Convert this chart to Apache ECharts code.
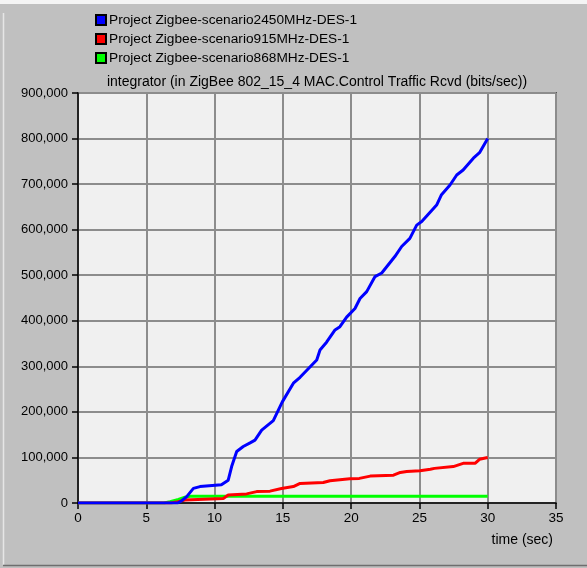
<!DOCTYPE html>
<html>
<head>
<meta charset="utf-8">
<script src="https://cdn.jsdelivr.net/npm/echarts@6/dist/echarts.min.js"></script>
<style>
  html, body { margin: 0; padding: 0; background: #c0c0c0; }
  #chart { width: 587px; height: 568px; }
</style>
</head>
<body>
<div id="chart"></div>
<script>
// Time axis ticks (sec) and value axis ticks (bits/sec)
const xTicks = [0, 5, 10, 15, 20, 25, 30, 35];
const yTicks = [0, 100000, 200000, 300000, 400000, 500000, 600000, 700000, 800000, 900000];

const seriesNames = [
  'Project Zigbee-scenario2450MHz-DES-1',
  'Project Zigbee-scenario915MHz-DES-1',
  'Project Zigbee-scenario868MHz-DES-1'
];

// 2450 MHz scenario
const t2450 = [0, 7.3, 7.6, 7.96, 8.45, 8.93, 10.5, 11.0, 11.25, 11.62, 12.1, 12.6, 12.96, 13.45, 14.3, 14.96, 15.77, 16.26, 17.48, 17.72, 18.2, 18.82, 19.18, 19.67, 20.28, 20.65, 21.14, 21.75, 22.24, 23.2, 23.7, 24.3, 24.8, 25.17, 26.26, 26.6, 27.24, 27.73, 28.2, 28.95, 29.4, 30];
const v2450 = [0, 0, 5000, 14000, 32000, 36000, 40000, 50000, 80000, 113000, 124000, 132000, 138000, 160000, 181000, 222000, 263000, 276000, 314000, 336000, 353000, 380000, 387000, 408000, 427000, 449000, 464000, 497000, 505000, 541000, 563000, 581000, 610000, 618000, 654000, 676000, 698000, 720000, 731000, 757000, 769000, 800000];

// 915 MHz scenario
const t915 = [0, 6.8, 7.2, 7.83, 10.64, 11.0, 12.35, 13.08, 14.06, 14.9, 15.77, 16.26, 17.96, 18.45, 19.9, 20.6, 21.4, 23.1, 23.6, 24.07, 25.04, 25.8, 26.1, 27.48, 28.2, 29.07, 29.4, 30];
const v915 = [0, 0, 2000, 6500, 10000, 17500, 20000, 25000, 26000, 32000, 36000, 43000, 45000, 49000, 53000, 54000, 59000, 61000, 67000, 69000, 71000, 74000, 76000, 80000, 87000, 87000, 96000, 100000];

// 868 MHz scenario
const t868 = [0, 6.3, 6.74, 7.35, 7.83, 8.2, 30];
const v868 = [0, 0, 3000, 8000, 12500, 15000, 15000];

const colors = ['#0000ff', '#ff0000', '#00ff00'];
const FONT = '"Liberation Sans", Arial, sans-serif';

function pairs(t, v) { return t.map((x, i) => [x, v[i]]); }

const chart = echarts.init(document.getElementById('chart'), null, { renderer: 'canvas' });

const G = { left: 78, top: 93, right: 31, bottom: 65 };

function lineSeries(idx, t, v, z) {
  return {
    name: seriesNames[idx],
    type: 'line',
    data: pairs(t, v),
    showSymbol: false,
    symbol: 'none',
    z: z,
    animation: false,
    lineStyle: { color: colors[idx], width: 3 },
    itemStyle: { color: colors[idx], borderColor: '#000', borderWidth: 1 }
  };
}

chart.setOption({
  animation: false,
  backgroundColor: '#c0c0c0',
  textStyle: { fontFamily: FONT },
  legend: {
    data: seriesNames,
    orient: 'vertical',
    left: 90,
    top: 8,
    itemWidth: 10,
    itemHeight: 10,
    itemGap: 5,
    icon: 'rect',
    selectedMode: false,
    textStyle: { fontFamily: FONT, fontSize: 13.7, color: '#000', padding: [0, 0, 0, -2] }
  },
  grid: {
    left: G.left, top: G.top, right: G.right, bottom: G.bottom,
    show: true,
    backgroundColor: '#f0f0f0',
    borderColor: '#000',
    borderWidth: 1.5
  },
  xAxis: {
    type: 'value',
    min: xTicks[0],
    max: xTicks[xTicks.length - 1],
    interval: 5,
    axisLine: { show: true, lineStyle: { color: '#000', width: 1.5 } },
    axisTick: { show: true, length: 6, lineStyle: { color: '#000', width: 1.5 } },
    axisLabel: { color: '#000', fontSize: 13.5, fontFamily: FONT, margin: 8 },
    splitLine: { show: true, lineStyle: { color: '#8c8c8c', width: 2 } }
  },
  yAxis: {
    type: 'value',
    min: yTicks[0],
    max: yTicks[yTicks.length - 1],
    interval: 100000,
    axisLine: { show: true, lineStyle: { color: '#000', width: 1.5 } },
    axisTick: { show: true, length: 6, lineStyle: { color: '#000', width: 1.5 } },
    axisLabel: {
      color: '#000', fontSize: 13, fontFamily: FONT, margin: 10,
      formatter: v => v.toLocaleString('en-US')
    },
    splitLine: { show: true, lineStyle: { color: '#8c8c8c', width: 2 } }
  },
  graphic: [
    { type: 'rect', shape: { x: 0, y: 0, width: 587, height: 4 }, style: { fill: '#f4f4f4' }, silent: true },
    { type: 'line', shape: { x1: 3.5, y1: 13, x2: 3.5, y2: 565 }, style: { stroke: '#e6e6e6', lineWidth: 1.5 }, silent: true },
    { type: 'line', shape: { x1: 3, y1: 565.5, x2: 587, y2: 565.5 }, style: { stroke: '#6e6e6e', lineWidth: 1.5 }, silent: true },
    {
      type: 'text', x: 317, y: 82,
      style: {
        text: 'integrator (in ZigBee 802_15_4 MAC.Control Traffic Rcvd (bits/sec))',
        font: '14px ' + FONT, fill: '#000', align: 'center', verticalAlign: 'middle'
      }, silent: true
    },
    {
      type: 'text', x: 553, y: 540,
      style: { text: 'time (sec)', font: '14px ' + FONT, fill: '#000', align: 'right', verticalAlign: 'middle' }, silent: true
    }
  ],
  series: [
    lineSeries(0, t2450, v2450, 5),
    lineSeries(1, t915, v915, 4),
    lineSeries(2, t868, v868, 3)
  ]
});
</script>
</body>
</html>
